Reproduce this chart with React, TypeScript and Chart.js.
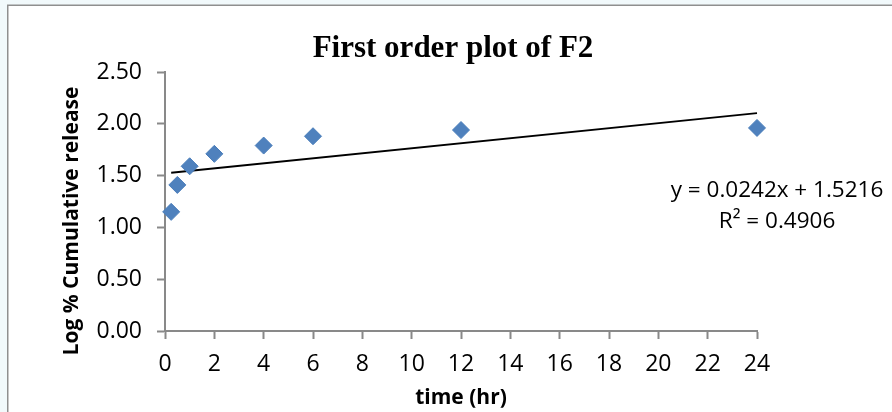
import React, { useEffect, useRef } from "react";
import { Chart, registerables } from "chart.js";

Chart.register(...registerables);

const TITLE = "First order plot of F2";
const X_TITLE = "time (hr)";
const Y_TITLE = "Log % Cumulative release";
const TIME_HR = [0.25, 0.5, 1, 2, 4, 6, 12, 24];
const LOG_RELEASE = [1.15, 1.41, 1.59, 1.71, 1.79, 1.88, 1.94, 1.96];
const SLOPE = 0.0242;
const INTERCEPT = 1.5216;
const R2 = 0.4906;
const X_MIN = 0;
const X_MAX = 24;
const X_STEP = 2;
const Y_MIN = 0;
const Y_MAX = 2.5;
const Y_STEP = 0.5;

const SANS = "'Open Sans', 'DejaVu Sans', sans-serif";
const AXIS_GRAY = "#898989";

const decorPlugin = {
  id: "decor",
  beforeDraw(chart: any) {
    const { ctx, width, height } = chart;
    ctx.save();
    ctx.fillStyle = "#f1f9fb";
    ctx.fillRect(0, 0, width, height);
    ctx.fillStyle = "#ffffff";
    ctx.fillRect(8, 6, width - 8, height - 6);
    ctx.strokeStyle = "#8f8f8f";
    ctx.lineWidth = 1.5;
    ctx.beginPath();
    ctx.moveTo(7.75, height);
    ctx.lineTo(7.75, 5.25);
    ctx.lineTo(width, 5.25);
    ctx.stroke();
    ctx.restore();
  },
  afterDraw(chart: any) {
    const { ctx } = chart;
    ctx.save();
    ctx.fillStyle = "#000000";
    // main title
    ctx.font = "bold 31px 'Liberation Serif', 'Times New Roman', serif";
    ctx.textAlign = "center";
    ctx.textBaseline = "alphabetic";
    ctx.fillText(TITLE, 453, 57);
    // x axis title
    ctx.font = `bold 21px ${SANS}`;
    ctx.fillText(X_TITLE, 461, 404);
    // y axis title
    ctx.save();
    ctx.translate(78, 221);
    ctx.rotate(-Math.PI / 2);
    ctx.fillText(Y_TITLE, 0, 0);
    ctx.restore();
    // trendline equation
    ctx.font = `22.5px ${SANS}`;
    ctx.fillText(`y = ${SLOPE}x + ${INTERCEPT}`, 777, 197);
    ctx.fillText(`R\u00B2 = ${R2}`, 777, 228);
    ctx.restore();
  },
};

export default function App() {
  const canvasRef = useRef<HTMLCanvasElement | null>(null);

  useEffect(() => {
    const canvas = canvasRef.current;
    if (!canvas) return;
    const xStart = TIME_HR[0];
    const xEnd = TIME_HR[TIME_HR.length - 1];
    const trend = [
      { x: xStart, y: INTERCEPT + SLOPE * xStart },
      { x: xEnd, y: INTERCEPT + SLOPE * xEnd },
    ];
    const points = TIME_HR.map((x, i) => ({ x, y: LOG_RELEASE[i] }));

    const chart = new Chart(canvas, {
      type: "scatter",
      data: {
        datasets: [
          {
            type: "line",
            data: trend,
            borderColor: "#000000",
            borderWidth: 1.8,
            pointRadius: 0,
            showLine: true,
            fill: false,
            clip: false,
            order: 2,
          } as any,
          {
            data: points,
            pointStyle: "rectRot",
            pointRadius: 8.5,
            pointBackgroundColor: "#4F81BD",
            pointBorderColor: "#4A7EBB",
            pointBorderWidth: 1,
            clip: false,
            order: 1,
          } as any,
        ],
      },
      options: {
        animation: false,
        responsive: true,
        maintainAspectRatio: false,
        layout: { padding: { left: 0, top: 72, right: 135, bottom: 0 } },
        plugins: {
          legend: { display: false },
          tooltip: { enabled: false },
          title: { display: false },
        },
        scales: {
          x: {
            type: "linear",
            min: X_MIN,
            max: X_MAX,
            afterFit: (scale: any) => {
              scale.height = 81;
            },
            ticks: {
              stepSize: X_STEP,
              color: "#000000",
              font: { family: SANS, size: 23 },
              padding: 12,
              callback: (v: any) => String(v),
            },
            grid: {
              drawOnChartArea: false,
              drawTicks: true,
              tickLength: 8,
              tickColor: AXIS_GRAY,
              tickWidth: 2,
            },
            border: { display: true, color: AXIS_GRAY, width: 2 },
            title: { display: false },
          },
          y: {
            type: "linear",
            min: Y_MIN,
            max: Y_MAX,
            afterFit: (scale: any) => {
              scale.width = 165;
            },
            ticks: {
              stepSize: Y_STEP,
              color: "#000000",
              font: { family: SANS, size: 23 },
              padding: 15,
              callback: (v: any) => Number(v).toFixed(2),
            },
            grid: {
              drawOnChartArea: false,
              drawTicks: true,
              tickLength: 8,
              tickColor: AXIS_GRAY,
              tickWidth: 2,
            },
            border: { display: true, color: AXIS_GRAY, width: 2 },
            title: { display: false },
          },
        },
      },
      plugins: [decorPlugin],
    });
    return () => chart.destroy();
  }, []);

  return (
    <div style={{ position: "absolute", left: 0, top: 0, width: 892, height: 412 }}>
      <canvas ref={canvasRef} />
    </div>
  );
}
